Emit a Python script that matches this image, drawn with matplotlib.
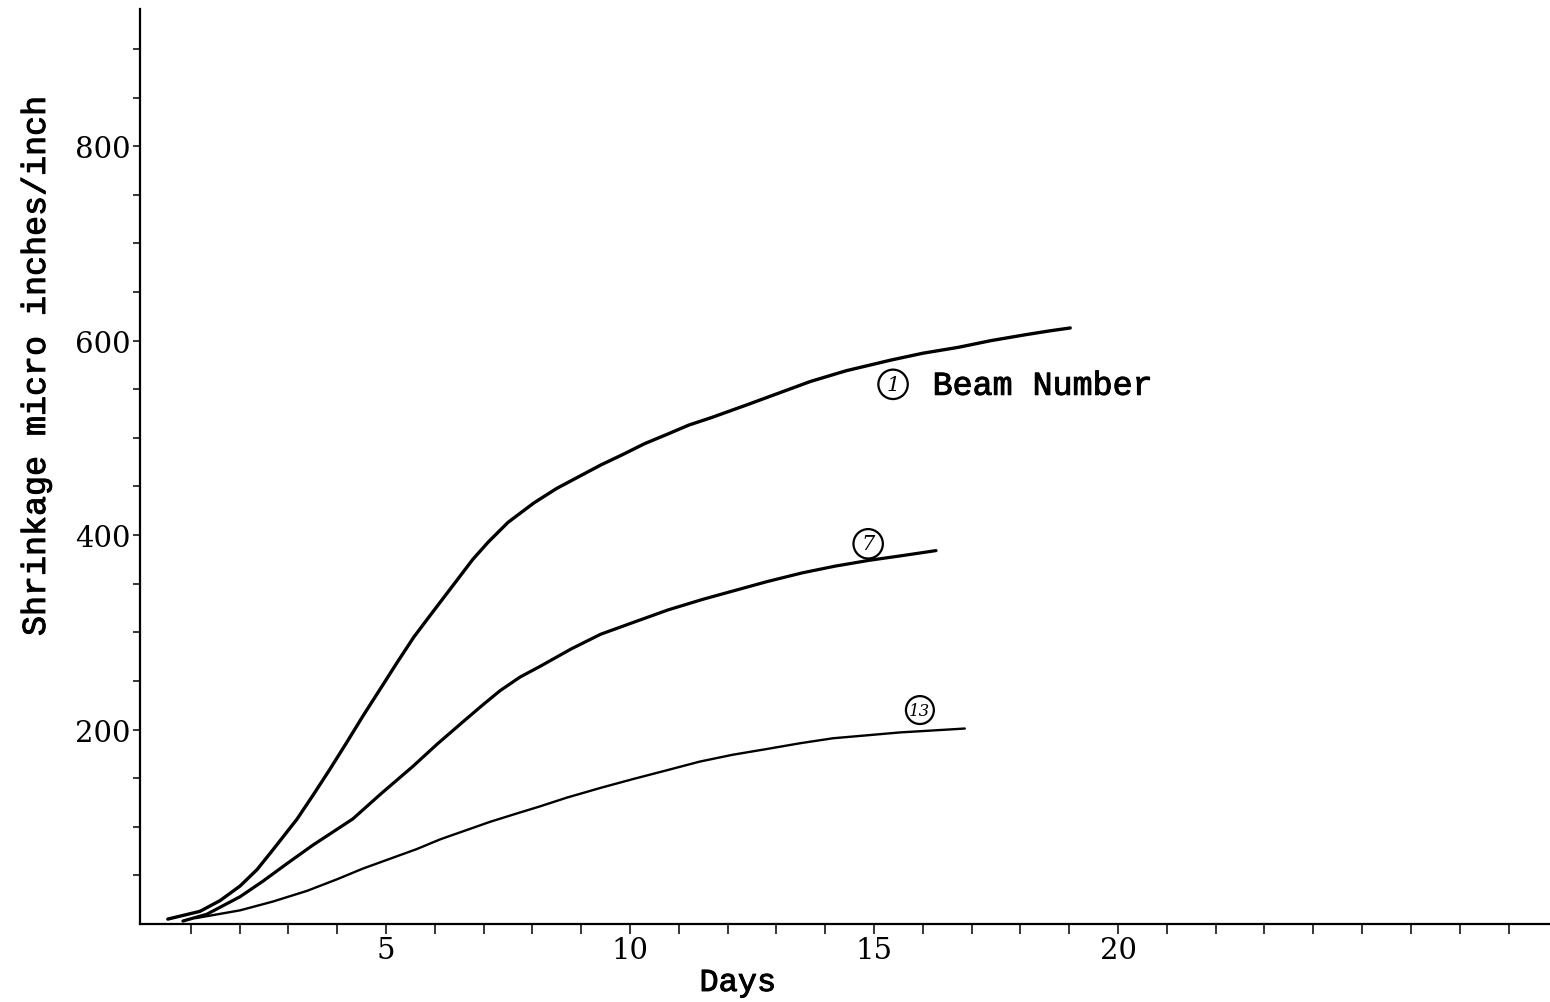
import matplotlib
matplotlib.use("Agg")
import matplotlib.pyplot as plt
import matplotlib.patheffects as pe
from matplotlib.ticker import FixedLocator

# shrinkage curves (days, micro inches/inch)
beam1_days = [0.53, 1.19, 1.6, 2.01, 2.36, 2.68, 3.18, 3.5, 3.85, 4.2, 4.53, 4.9, 5.23,
              5.57, 5.9, 6.31, 6.78, 7.1, 7.5, 8.03, 8.5, 8.95, 9.4, 9.86, 10.3,
              10.78, 11.2, 11.68, 12.4, 13.05, 13.7, 14.43, 15.35, 16.0, 16.72, 17.4,
              18.1, 18.6, 19.02]
beam1_vals = [5, 13, 24, 39, 56, 76, 108, 132, 159, 187, 214, 243, 269,
              295, 317, 344, 375, 393, 413, 433, 448, 460, 472, 483, 494,
              504, 513, 521, 534, 546, 558, 569, 580, 587, 593, 600,
              606, 610, 613]

beam7_days = [0.84, 1.33, 2.01, 2.48, 2.97, 3.5, 4.32, 4.9, 5.55, 6.05, 6.58, 7.0, 7.34,
              7.75, 8.16, 8.8, 9.4, 10.06, 10.78, 11.5, 12.15, 12.8, 13.52, 14.2, 14.9,
              15.6, 16.27]
beam7_vals = [3, 10, 28, 44, 62, 81, 108, 134, 162, 185, 208, 226, 240,
              254, 265, 283, 298, 310, 323, 334, 343, 352, 361, 368, 374,
              379, 384]

beam13_days = [1.1, 1.33, 2.01, 2.68, 3.38, 4.0, 4.53, 5.08, 5.63, 6.11, 6.62, 7.13,
               7.64, 8.16, 8.71, 9.4, 10.06, 10.75, 11.43, 12.1, 12.81, 13.5, 14.16,
               14.85, 15.53, 16.2, 16.86]
beam13_vals = [6, 8, 14, 23, 34, 46, 57, 67, 77, 87, 96, 105,
               113, 121, 130, 140, 149, 158, 167, 174, 180, 186, 191,
               194, 197, 199, 201]

x_labels = [5, 10, 15, 20]
y_labels = [200, 400, 600, 800]

mono = "Liberation Mono"
serif = "DejaVu Serif"
heavy = [pe.withStroke(linewidth=0.7, foreground="black")]

fig = plt.figure(figsize=(15.5, 10.03), dpi=100)
ax = fig.add_axes([0.0903, 0.0778, 0.9097, 0.9122])

ax.plot(beam1_days, beam1_vals, color="black", lw=2.4, solid_capstyle="round",
        solid_joinstyle="round")
ax.plot(beam7_days, beam7_vals, color="black", lw=2.3, solid_capstyle="round",
        solid_joinstyle="round")
ax.plot(beam13_days, beam13_vals, color="black", lw=1.7, solid_capstyle="round",
        solid_joinstyle="round")

ax.set_xlim(-0.04, 28.85)
ax.set_ylim(0, 941)

for s in ["top", "right"]:
    ax.spines[s].set_visible(False)
for s in ["left", "bottom"]:
    ax.spines[s].set_linewidth(1.6)

ax.xaxis.set_major_locator(FixedLocator(x_labels))
ax.xaxis.set_minor_locator(FixedLocator(range(1, 29)))
ax.yaxis.set_major_locator(FixedLocator(y_labels))
ax.yaxis.set_minor_locator(FixedLocator(range(50, 901, 50)))
ax.tick_params(axis="x", which="both", direction="out", length=7, width=1.1, pad=2)
ax.tick_params(axis="y", which="both", direction="out", length=5, width=1.1, pad=2)
ax.tick_params(axis="both", which="major", labelsize=21)
for lab in ax.get_xticklabels() + ax.get_yticklabels():
    lab.set_fontfamily(serif)

ax.set_xlabel("Days", fontsize=23, fontfamily=mono, path_effects=heavy)
ax.xaxis.set_label_coords((738 - 140) / 1410, -(969 - 925) / 915)
ax.set_ylabel("Shrinkage micro inches/inch", fontsize=24, fontfamily=mono,
              path_effects=heavy)
ax.yaxis.set_label_coords(-(140 - 52) / 1410, (925 - 367) / 915)

circ = dict(boxstyle="circle,pad=0.25", fc="none", ec="black", lw=1.6)
ax.text(15.39, 555, "1", fontsize=15, fontstyle="italic", fontfamily=serif,
        ha="center", va="center", bbox=circ)
ax.text(16.2, 553, "Beam Number", fontsize=24, fontfamily=mono, path_effects=heavy,
        ha="left", va="center")
ax.text(14.88, 391, "7", fontsize=15, fontstyle="italic", fontfamily=serif,
        ha="center", va="center", bbox=circ)
ax.text(15.94, 220, "13", fontsize=12, fontstyle="italic", fontfamily=serif,
        ha="center", va="center", bbox=dict(boxstyle="circle,pad=0.2", fc="none",
                                             ec="black", lw=1.6))

fig.savefig("out.png", dpi=100)
